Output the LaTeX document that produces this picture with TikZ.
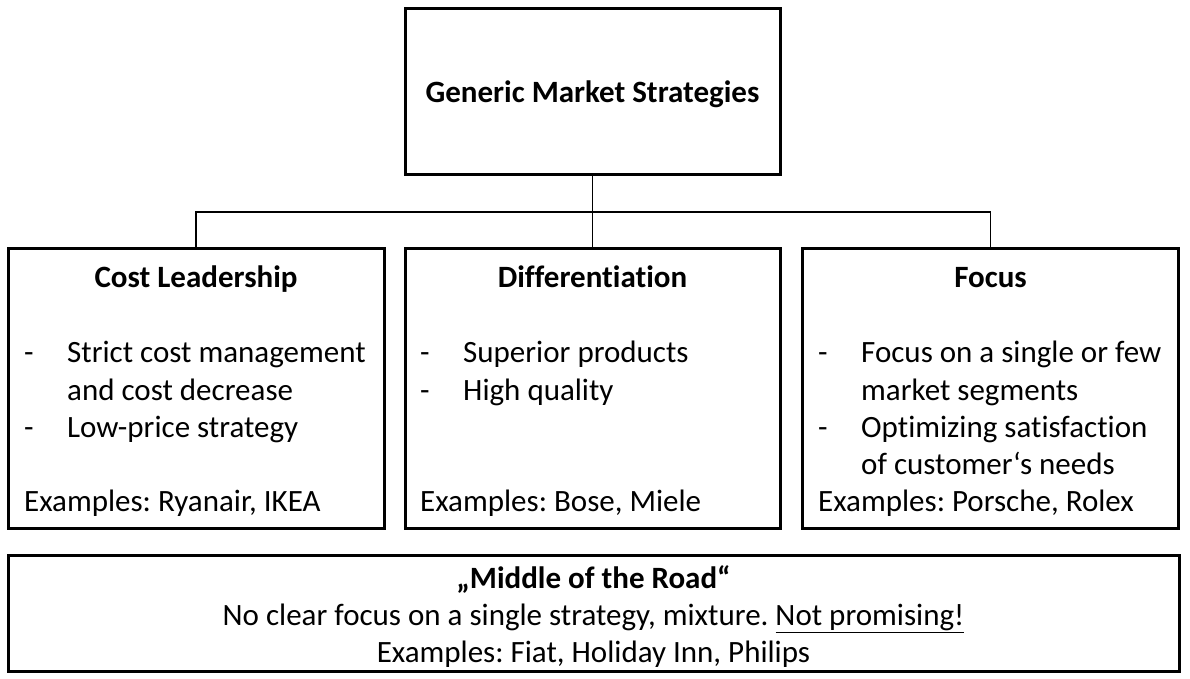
\documentclass[tikz,border=0pt]{standalone}
\usepackage{fontspec}
\setmainfont{Carlito}[RawFeature={-liga}]
\frenchspacing
\begin{document}
\begin{tikzpicture}[x=1pt,y=-1pt,
  box/.style={draw=black,line width=3pt,inner sep=0pt,fill=white},
  link/.style={draw=black,line width=1.3pt},
  txt/.style={anchor=base west,inner sep=0pt,font=\fontsize{31}{37.5}\selectfont},
  head/.style={anchor=base,inner sep=0pt,font=\fontsize{31}{37.5}\selectfont\bfseries},
  mid/.style={anchor=base,inner sep=0pt,font=\fontsize{31}{37.5}\selectfont}]
\useasboundingbox (0,0) rectangle (1190,679);

% connectors behind the boxes
\coordinate (rootbot) at (592.5,175);
\coordinate (costtop) at (196,248);
\coordinate (difftop) at (592.5,248);
\coordinate (focustop) at (990.5,248);
\draw[link] (rootbot) -- (difftop);
\draw[link] (costtop) -- ++(0,-36) -| (focustop);

% boxes
\node[box,minimum width=375pt,minimum height=166pt] (root) at (592.5,92) {};
\node[box,minimum width=376pt,minimum height=280pt] (cost) at (196,388) {};
\node[box,minimum width=375pt,minimum height=280pt] (diff) at (592.5,388) {};
\node[box,minimum width=376pt,minimum height=280pt] (focus) at (990.5,388) {};
\node[box,minimum width=1171pt,minimum height=116pt] (road) at (593.5,613) {};

% headings
\node[head] (roottitle) at (592.5,103) {Generic Market Strategies};
\node[head] (costtitle) at (196,287) {Cost Leadership};
\node[head] (difftitle) at (592.5,287) {Differentiation};
\node[head] (focustitle) at (990.5,287) {Focus};

% cost leadership
\node[txt] (c1d) at (24,362) {-};
\node[txt] (c1) at (67,362) {Strict cost management};
\node[txt] (c2) at (67,400) {and cost decrease};
\node[txt] (c3d) at (24,437) {-};
\node[txt] (c3) at (67,437) {Low-price strategy};
\node[txt] (cex) at (24,511) {Examples: Ryanair, IKEA};

% differentiation
\node[txt] (d1d) at (420,362) {-};
\node[txt] (d1) at (463,362) {Superior products};
\node[txt] (d2d) at (420,400) {-};
\node[txt] (d2) at (463,400) {High quality};
\node[txt] (dex) at (420,511) {Examples: Bose, Miele};

% focus
\node[txt] (f1d) at (818,362) {-};
\node[txt] (f1) at (861,362) {Focus on a single or few};
\node[txt] (f2) at (861,400) {market segments};
\node[txt] (f3d) at (818,437) {-};
\node[txt] (f3) at (861,437) {Optimizing satisfaction};
\node[txt] (f4) at (861,474) {of customer‘s needs};
\node[txt] (fex) at (818,511) {Examples: Porsche, Rolex};

% middle of the road
\node[head] (r1) at (593.5,588) {„Middle of the Road“};
\node[mid] (r2) at (593.5,625) {No clear focus on a single strategy, mixture. \underline{Not promising!}};
\node[mid] (r3) at (593.5,662) {Examples: Fiat, Holiday Inn, Philips};
\end{tikzpicture}
\end{document}
